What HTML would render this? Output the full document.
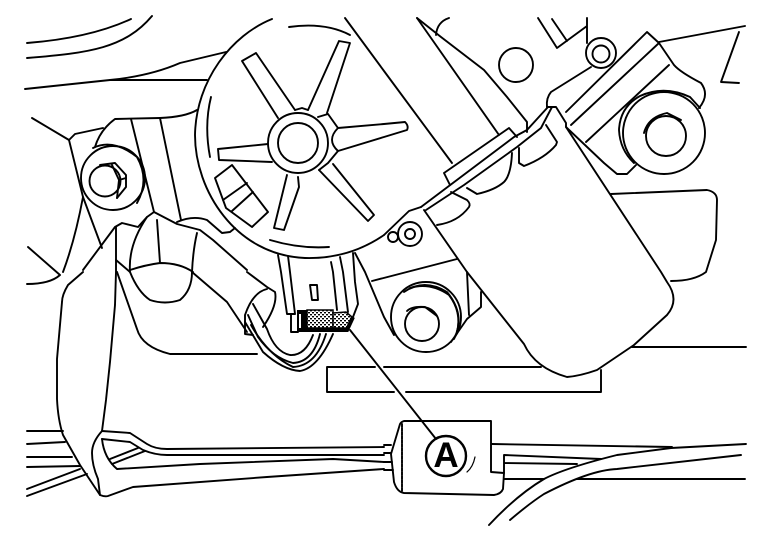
<!DOCTYPE html>
<html><head><meta charset="utf-8"><style>html,body{margin:0;padding:0;background:#fff}svg{display:block}</style></head><body>
<svg width="768" height="544" viewBox="0 0 768 544" xmlns="http://www.w3.org/2000/svg">
<defs><pattern id="h" width="4" height="4" patternUnits="userSpaceOnUse"><rect width="4" height="4" fill="#fff"/><rect width="2" height="1.4" fill="#000"/><rect x="2" y="2" width="2" height="1.4" fill="#000"/></pattern></defs>
<rect width="768" height="544" fill="#fff"/>
<g fill="none" stroke="#000" stroke-width="1.9" stroke-linejoin="round" stroke-linecap="round">
<!-- top left -->
<path d="M27 43Q90 38 131 19"/>
<path d="M27 58C90 53 125 48 152 16"/>
<path d="M25 89L110 80L207 80"/>
<path d="M110 80Q150 76 180 63L226 52"/>
<!-- disc -->
<path d="M272 19C232 35 196 80 195 135C195 190 235 255 305 258C340 259 365 248 384 235"/>
<path d="M289 27Q325 22 350 35"/>
<path d="M345 18L384 71L452 163"/>
<path d="M278 118L242 61L256 53L295 110"/>
<path d="M308 110L339 41L350 43L327 113"/>
<circle cx="298" cy="143" r="30"/><circle cx="298" cy="143" r="20"/>
<path d="M295 110L302 108L308 110"/>
<path d="M318 117L328 114L338 128"/><path d="M338 151L328 163L319 170"/>
<path d="M338 128L384 124L405 122Q409 126 407 130L384 137L338 151Q326 140 338 128"/>
<path d="M333 164L374 215L368 221L319 170"/>
<path d="M298 177L299 187L284 230L274 228L287 175"/>
<path d="M268 144L218 149L219 160L272 162"/>
<path d="M211 97Q204 125 210 157"/>
<path d="M215 178L232 165L268 212L252 227L226 208Z"/>
<path d="M223 200L247 183M232 211L253 192"/>
<path d="M270 240Q300 249 329 247"/>
<!-- left bracket -->
<path d="M32 118L69 140L75 134L103 128"/>
<path d="M69 140L83 197L102 248"/>
<path d="M95 147Q100 130 115 119L160 118Q185 117 197 110"/>
<circle cx="113" cy="178" r="32"/>
<path d="M93 148Q113 138 137 157Q150 180 137 203"/>
<circle cx="105" cy="181" r="15.5"/>
<path d="M100 165L115 163L126 175L126 187L117 198"/>
<path d="M112 165L119 180L117 198M119 180L126 178"/>
<path d="M131 119L154 212M160 118L181 220"/>
<path d="M83 270L115 227L122 223L138 227L147 217L154 212L177 224L200 230L213 240L247 270"/>
<path d="M177 222Q193 215 207 220L222 233L230 232L235 228"/>
<path d="M83 197Q75 240 63 272"/>
<path d="M28 247L60 275Q50 284 27 284"/>
<path d="M116 227L116 272L115 305L110 362L106 400L102 431"/>
<path d="M83 272L68 285Q62 295 62 302L57 359L57 399Q58 420 63 435L80 465L100 495"/>
<path d="M117 272L137 329Q142 347 170 354L257 354"/>
<path d="M157 220L160 263M197 233Q193 250 192 272Q192 290 180 300Q165 305 150 300Q138 292 130 272Q128 245 147 217"/>
<path d="M130 270Q145 265 160 263Q180 263 193 272M116 260L130 272"/>
<path d="M192 272L227 302L247 332"/>
<path d="M247 272L267 287L275 292Q278 305 263 327"/>
<path d="M267 289Q253 292 245 315L245 334L253 335"/>
<!-- harness loop -->
<path d="M253 304L267 329Q275 352 290 355Q305 356 313 335"/>
<path d="M248 315L258 337Q273 358 293 363Q313 362 320 334"/>
<path d="M245 322L263 352Q283 370 300 371Q318 368 333 334"/>
<path d="M251 325Q268 355 293 367Q316 366 326 334"/>
<!-- connector -->
<path d="M278 255L281 272L287 314L295 314M288 256L290 272L295 314"/>
<path d="M331 262L333 272L337 310M340 257L343 272L348 312"/>
<path d="M353 253L355 282L358 304L353 317M355 253L365 272L384 317L394 335"/>
<path d="M372 281L457 259"/>
<path d="M310 285L317 285L318 300L312 300Z"/>
<path d="M291 314L291 332L298 332"/>
<path d="M350 330L436 439"/>
<!-- circle A -->
<circle cx="446" cy="456" r="20" stroke-width="2.4"/>
<path d="M467 472Q473 467 475 457" stroke-width="1.2"/>
<!-- band -->
<path d="M404 421H491V472L504 473L503 489Q501 494 494 495L404 493Q397 492 394 482L391 454L400 424Q401 422 404 421"/>
<path d="M402 424L402 492" stroke-dasharray="3 1"/>
<path d="M384 445L391 445M384 453L391 453M384 462L392 462M384 470L393 470"/>
<!-- harness left -->
<path d="M102 431L130 433L147 444Q155 449 167 449L384 447"/>
<path d="M102 439L130 442L143 450Q155 455 167 455L384 455"/>
<path d="M102 439Q104 458 117 469L200 464L333 459L384 462"/>
<path d="M102 431Q92 442 92 453Q92 465 98 479L100 495Q105 497 108 496L133 487L267 477L384 469"/>
<path d="M110 459L138 448M112 464L145 451"/>
<path d="M27 431H63M27 444L65 442M27 457H72M27 467L80 466M27 489L80 469M27 496L87 474"/>
<!-- harness right -->
<path d="M492 444L672 447"/>
<path d="M489 525Q517 495 544 479Q565 468 617 455L671 448L746 444"/>
<path d="M510 520Q530 503 544 494Q590 470 617 469L741 455"/>
<path d="M504 473V455L601 459M504 463L577 464M504 479L544 479M577 479H745"/>
<!-- motor cover -->
<path d="M424 210L467 272L524 344Q535 368 567 377Q580 376 597 370L634 345L667 315Q680 300 667 282L661 272L566 127L566 123L556 107L547 107"/>
<path d="M421 207L514 137L527 130L548 107"/>
<path d="M426 210L464 185L517 147L541 128L552 107"/>
<path d="M444 173L509 128L517 137M444 173L450 185"/>
<path d="M451 192L467 200Q471 204 469 207Q458 222 437 225"/>
<path d="M467 188L477 194Q495 190 504 182Q511 175 512 153"/>
<path d="M519 148L519 163L524 166Q545 158 556 145L557 142L546 125"/>
<circle cx="410" cy="234" r="12"/><circle cx="410" cy="234" r="5"/><circle cx="393" cy="237" r="5"/>
<path d="M384 235L409 211L421 207"/>
<!-- top middle -->
<path d="M417 18L499 135"/>
<path d="M417 18L441 37L484 70L507 97L527 122L527 132"/>
<path d="M449 18Q437 22 436 35"/>
<circle cx="516" cy="65" r="17"/>
<path d="M538 18L557 48L587 26M587 18V43M552 19L567 41"/>
<circle cx="601" cy="53" r="15"/><circle cx="601" cy="54" r="8.5"/>
<path d="M547 107Q546 98 551 92L591 67"/>
<path d="M566 112L647 32L659 43L674 65Q680 72 701 83Q710 95 699 108"/>
<path d="M571 125L659 43"/>
<path d="M659 42L745 26M739 32L721 82L739 83"/>
<path d="M586 142L669 65"/>
<circle cx="664" cy="133" r="41"/>
<path d="M619 130Q620 107 640 96Q664 85 690 97L700 108M619 130Q620 150 634 163"/>
<circle cx="666" cy="136" r="20"/>
<path d="M644 133Q648 117 667 113L681 120"/>
<path d="M566 127L604 163L617 174L627 174L636 165"/>
<path d="M611 194L707 190Q717 192 717 200L716 240L706 272Q694 281 671 281"/>
<path d="M632 347H746"/>
<!-- lower boss -->
<circle cx="426" cy="317" r="35"/>
<circle cx="422" cy="324" r="17"/>
<path d="M404 292Q424 278 447 292Q466 315 454 339"/>
<path d="M410 288Q430 282 449 295Q462 312 457 332"/>
<path d="M407 311Q412 306 425 307L437 316"/>
<path d="M467 272L469 315M481 292L481 307L467 319L451 342"/>
<!-- plate -->
<path d="M384 367H541M327 367H375M327 367V392H394M406 392H601V370"/>
</g>
<!-- black connector -->
<rect x="297" y="310" width="10" height="22" fill="#000"/>
<rect x="299" y="314" width="2" height="14" fill="#fff"/>
<rect x="307" y="310" width="26" height="18" fill="url(#h)" stroke="#000" stroke-width="1.5"/>
<path d="M333 313L346 312L352 317L347 328L333 328Z" fill="url(#h)" stroke="#000" stroke-width="1.5"/>
<path d="M298 330L347 330L353 317" fill="none" stroke="#000" stroke-width="4"/>
<text x="446" y="467" text-anchor="middle" font-family="'Liberation Sans',sans-serif" font-weight="700" font-size="35" fill="#000">A</text>
</svg>
</body></html>
